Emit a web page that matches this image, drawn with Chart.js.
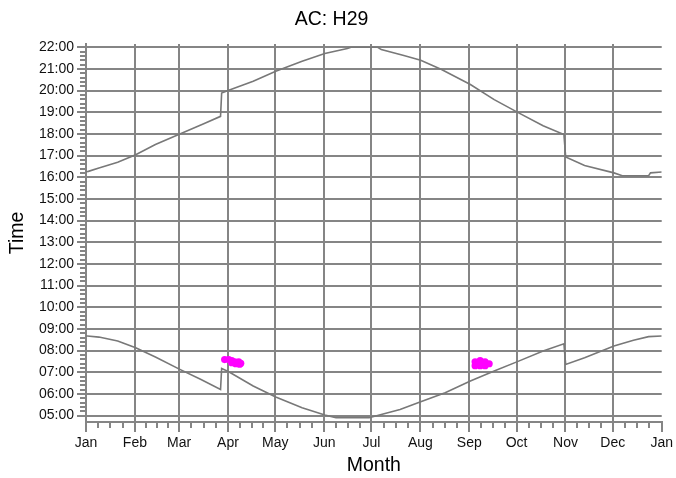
<!DOCTYPE html>
<html>
<head>
<meta charset="utf-8">
<script src="https://cdn.jsdelivr.net/npm/chart.js@4.4.1/dist/chart.umd.min.js"></script>
<style>
  html, body { margin: 0; padding: 0; background: #fff; }
</style>
</head>
<body>
<canvas id="c" width="676" height="478"></canvas>
<script>
// Month starts as day of year, and their labels
const monthDays = [0, 31, 59, 90, 120, 151, 181, 212, 243, 273, 304, 334, 365];
const monthLabels = ['Jan', 'Feb', 'Mar', 'Apr', 'May', 'Jun', 'Jul', 'Aug', 'Sep', 'Oct', 'Nov', 'Dec', 'Jan'];
const hourTicks = [5, 6, 7, 8, 9, 10, 11, 12, 13, 14, 15, 16, 17, 18, 19, 20, 21, 22];

// Evening curve (day of year, hour)
const eveningDays  = [0, 1.5, 8.2, 20.1, 31.5, 44, 59.5, 75, 85.3, 86, 90.5, 106, 120.3, 137, 151.4, 165.7, 168, 185, 187.2, 201.5, 212.2, 225.4, 243.7, 258.8, 274.3, 289.8, 303, 304.1, 316.1, 334.7, 340, 356.7, 357.9, 365];
const eveningHours = [16.25, 16.27, 16.43, 16.69, 17.04, 17.51, 18.0, 18.48, 18.81, 19.89, 20.01, 20.43, 20.89, 21.35, 21.71, 21.94, 22.0, 22.0, 21.89, 21.62, 21.4, 20.97, 20.28, 19.58, 18.97, 18.38, 17.97, 16.94, 16.54, 16.2, 16.07, 16.07, 16.2, 16.24];

// Morning curve
const morningDays  = [0, 0.9, 8.2, 20.1, 31.5, 44, 59.5, 72.6, 85.3, 86, 90.5, 106, 120.3, 137, 151.4, 158.5, 179.5, 186, 199.1, 212.2, 227.7, 243.7, 258.8, 274.3, 289.8, 303, 304.1, 316.1, 334.7, 347.1, 356.7, 365];
const morningHours = [8.67, 8.67, 8.62, 8.44, 8.13, 7.70, 7.13, 6.67, 6.2, 7.17, 7.02, 6.36, 5.85, 5.36, 5.02, 4.90, 4.90, 5.02, 5.28, 5.64, 6.05, 6.59, 7.05, 7.51, 7.98, 8.31, 7.36, 7.67, 8.21, 8.47, 8.64, 8.67];

// Magenta observations
const obsDays  = [87.9, 90.5, 92.4, 94.3, 96.8, 98.1, 94.9, 97.4, 92.4, 246.7, 249.9, 253.0, 255.6, 246.7, 249.9, 253.0, 248.6];
const obsHours = [7.58, 7.58, 7.53, 7.48, 7.48, 7.41, 7.39, 7.37, 7.44, 7.48, 7.53, 7.48, 7.39, 7.30, 7.30, 7.30, 7.39];

const toPts = (xs, ys) => xs.map((x, i) => ({ x: x, y: ys[i] }));

const GRID = '#858585';
const FONT = "'Liberation Sans', Arial, sans-serif";

// minor tick marks: quarters of each month, every 12 minutes
const minorTicks = {
  id: 'minorTicks',
  afterDraw(chart) {
    const { ctx, scales: { x, y } } = chart;
    ctx.save();
    ctx.strokeStyle = GRID;
    ctx.lineWidth = 2;
    ctx.beginPath();
    for (let m = 0; m < monthDays.length - 1; m++) {
      const span = monthDays[m + 1] - monthDays[m];
      for (let q = 1; q < 4; q++) {
        const px = Math.round(x.getPixelForValue(monthDays[m] + span * q / 4));
        ctx.moveTo(px, y.bottom);
        ctx.lineTo(px, y.bottom + 6);
      }
    }
    for (let h = 5; h < 22; h++) {
      for (let k = 1; k < 5; k++) {
        const py = Math.round(y.getPixelForValue(h + k / 5));
        ctx.moveTo(x.left - 6, py);
        ctx.lineTo(x.left, py);
      }
    }
    ctx.stroke();
    ctx.restore();
  }
};

new Chart(document.getElementById('c'), {
  type: 'scatter',
  data: {
    datasets: [
      {
        label: 'Evening',
        data: toPts(eveningDays, eveningHours),
        showLine: true,
        borderColor: '#787878',
        borderWidth: 1.6,
        pointRadius: 0
      },
      {
        label: 'Morning',
        data: toPts(morningDays, morningHours),
        showLine: true,
        borderColor: '#787878',
        borderWidth: 1.6,
        pointRadius: 0
      },
      {
        label: 'Obs',
        data: toPts(obsDays, obsHours),
        backgroundColor: '#ff00ff',
        borderWidth: 0,
        pointRadius: 3.6
      }
    ]
  },
  options: {
    responsive: false,
    animation: false,
    layout: { padding: { left: 0, right: 13, top: 0, bottom: 0 } },
    plugins: {
      legend: { display: false },
      tooltip: { enabled: false },
      title: {
        display: true,
        text: 'AC: H29',
        color: '#000',
        font: { family: FONT, size: 19.5, weight: 'normal' },
        padding: { top: 8.3, bottom: 12.3 }
      }
    },
    scales: {
      x: {
        type: 'linear',
        min: 0,
        max: 365,
        afterBuildTicks: s => { s.ticks = monthDays.map(v => ({ value: v })); },
        afterFit: s => { s.height = 56; },
        ticks: {
          autoSkip: false,
          maxRotation: 0,
          padding: 3,
          color: '#111',
          font: { family: FONT, size: 14 },
          callback: (v, i) => monthLabels[i]
        },
        grid: {
          color: c => (c.index === monthDays.length - 1 ? 'rgba(0,0,0,0)' : GRID),
          tickColor: GRID,
          lineWidth: 2,
          tickLength: 10
        },
        border: { display: true, color: GRID, width: 2 },
        title: {
          display: true,
          text: 'Month',
          color: '#000',
          font: { family: FONT, size: 19.5 },
          padding: { top: 0, bottom: 1 }
        }
      },
      y: {
        type: 'linear',
        min: 4.7,
        max: 22.15,
        afterBuildTicks: s => { s.ticks = hourTicks.map(v => ({ value: v })); },
        afterFit: s => { s.width = 86; },
        ticks: {
          autoSkip: false,
          padding: 3,
          color: '#111',
          font: { family: FONT, size: 14 },
          callback: v => String(v).padStart(2, '0') + ':00'
        },
        grid: {
          color: GRID,
          lineWidth: 2,
          tickLength: 9
        },
        border: { display: true, color: GRID, width: 2 },
        title: {
          display: true,
          text: 'Time',
          color: '#000',
          font: { family: FONT, size: 19.5 },
          padding: { top: 6, bottom: 0 }
        }
      }
    }
  },
  plugins: [minorTicks]
});
</script>
</body>
</html>
